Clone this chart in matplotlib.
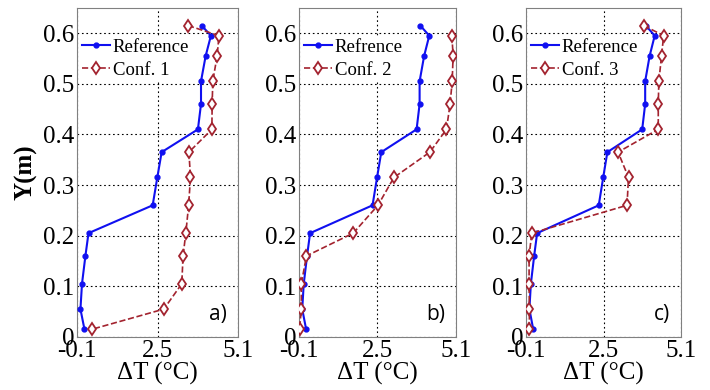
import numpy as np
import matplotlib.pyplot as plt

# heights of the measuring points (m)
y_ref = [0.615, 0.595, 0.555, 0.505, 0.46, 0.41, 0.365, 0.315, 0.26, 0.205, 0.16, 0.105, 0.055, 0.015]
y_conf2 = y_ref[1:]

# reference temperature rise (deg C)
dT_ref = [3.92, 4.22, 4.05, 3.9, 3.9, 3.8, 2.63, 2.49, 2.34, 0.27, 0.17, 0.06, 0.01, 0.14]

# configurations
dT_conf1 = [3.48, 4.48, 4.42, 4.28, 4.26, 4.25, 3.51, 3.56, 3.5, 3.41, 3.32, 3.28, 2.7, 0.37]
dT_conf2 = [4.97, 5.01, 4.98, 4.91, 4.79, 4.24, 3.05, 2.52, 1.7, 0.15, -0.02, -0.02, -0.08]
dT_conf3 = [3.85, 4.52, 4.45, 4.36, 4.34, 4.34, 2.99, 3.34, 3.29, 0.09, 0.0, 0.0, 0.01, 0.01]

panels = [
    ("Reference", "Conf. 1", dT_conf1, y_ref, "a)"),
    ("Refrence", "Conf. 2", dT_conf2, y_conf2, "b)"),
    ("Reference", "Conf. 3", dT_conf3, y_ref, "c)"),
]

x_ticks = [-0.1, 2.5, 5.1]
y_ticks = [0, 0.1, 0.2, 0.3, 0.4, 0.5, 0.6]

serif = ["Liberation Serif", "DejaVu Serif"]
blue = "#1010f0"
red = "#a3232f"

fig = plt.figure(figsize=(7.1, 3.9), dpi=100)
lefts = [0.1085, 0.421, 0.741]
widths = [0.227, 0.221, 0.218]

for i, (ref_lbl, conf_lbl, dT_conf, y_conf, tag) in enumerate(panels):
    ax = fig.add_axes([lefts[i], 0.136, widths[i], 0.844])
    ax.plot(dT_ref, y_ref, '-', color=blue, lw=1.5, marker='o', ms=3.5,
            label=ref_lbl, zorder=3)
    ax.plot(dT_conf, y_conf, '--', color=red, lw=1.2, marker='d', ms=6,
            mfc='white', mec=red, mew=1.3, label=conf_lbl, zorder=3)
    ax.set_xlim(-0.1, 5.1)
    ax.set_ylim(0, 0.65)
    ax.set_xticks(x_ticks)
    ax.set_xticklabels([f"{t:g}" for t in x_ticks], family=serif, fontsize=18)
    ax.set_yticks(y_ticks)
    ax.set_yticklabels([f"{t:g}" for t in y_ticks], family=serif, fontsize=18)
    ax.tick_params(length=0, pad=2)
    ax.grid(True, color='black', ls=(0, (1.5, 2.5)), lw=0.8)
    for s in ax.spines.values():
        s.set_color('#808080')
    ax.set_xlabel("\u0394T (\u00b0C)", family=serif, fontsize=18, labelpad=0)
    if i == 0:
        ax.set_ylabel("Y(m)", family=serif, fontsize=18, fontweight='bold', labelpad=4)
    leg = ax.legend(loc='upper left', bbox_to_anchor=(0.0, 0.92), frameon=True,
                    fancybox=False, edgecolor='none', framealpha=1.0,
                    prop={'family': serif, 'size': 13.5}, handlelength=1.5,
                    handletextpad=0.15, borderpad=0.1, labelspacing=0.3,
                    borderaxespad=0.15)
    leg.set_zorder(2)
    ax.text(0.93, 0.035, tag, transform=ax.transAxes, ha='right', va='bottom',
            family=["Open Sans", "DejaVu Sans"], fontsize=15)

fig.savefig("out.png", dpi=100)
